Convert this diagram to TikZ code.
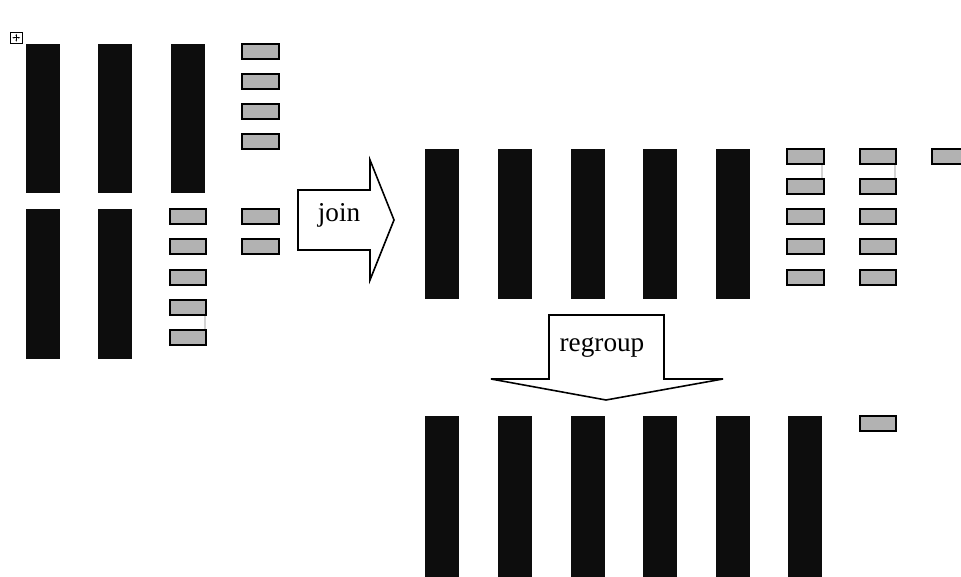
\documentclass[tikz,border=0pt]{standalone}
\usepackage{fontspec}
\setmainfont{Liberation Serif}
\usetikzlibrary{calc,arrows.meta}

\tikzset{
	bar/.style={fill=black!95, draw=none},
	slot/.style={fill=gray!60, draw=black, line width=0.6pt},
	bigarrow/.style={draw=black, line width=0.9pt, fill=white},
	faint/.style={draw=gray!35, line width=0.6pt},
	handle/.style={line width=0.4pt, -{Stealth[length=1.2pt]}},
}

\begin{document}
\begin{tikzpicture}[x=0.02cm, y=-0.02cm, font=\fontsize{15.5}{18}\selectfont]
		%%%%% START %%%%%
		\useasboundingbox (0, 0) rectangle (961, 577);
		
		% table handle
		\draw[line width=0.5pt] (10.5, 32) rectangle (22, 43.5);
		\draw[handle] (16.25, 37.75) -- (12.3, 37.75);
		\draw[handle] (16.25, 37.75) -- (20.2, 37.75);
		\draw[handle] (16.25, 37.75) -- (16.25, 33.8);
		\draw[handle] (16.25, 37.75) -- (16.25, 41.7);
		
		% before joining
		\foreach \x in {26, 98, 171} \fill[bar] (\x, 44) rectangle ++(34, 149);
		\foreach \x in {26, 98} \fill[bar] (\x, 209) rectangle ++(34, 150);
		\draw[faint] (205, 315) -- (205, 330);
		\foreach \y in {44, 74, 104, 134, 209, 239} \draw[slot] (242, \y) rectangle ++(37, 15);
		\foreach \y in {209, 239, 270, 300, 330} \draw[slot] (170, \y) rectangle ++(36, 15);
		
		% join
		\draw[bigarrow] (298, 190) -- (370, 190) -- (370, 160) -- (394, 220)
			-- (370, 280) -- (370, 250) -- (298, 250) -- cycle;
		\node (join) at (339, 215) {join};
		
		% after joining
		\foreach \x in {425, 498, 571, 643, 716} \fill[bar] (\x, 149) rectangle ++(34, 150);
		\draw[faint] (822, 164) -- (822, 179);
		\draw[faint] (895, 164) -- (895, 179);
		\foreach \y in {149, 179, 209, 239, 270} {
			\draw[slot] (787, \y) rectangle ++(37, 15);
			\draw[slot] (860, \y) rectangle ++(36, 15);
		}
		\draw[slot] (932, 149) rectangle ++(37, 15);
		
		% regroup
		\draw[bigarrow] (549, 315) -- (664, 315) -- (664, 379) -- (723, 379)
			-- (606, 400) -- (491, 379) -- (549, 379) -- cycle;
		\node (regroup) at (602, 347) {regroup};
		
		% after regrouping
		\foreach \x in {425, 498, 571, 643, 716, 788} \fill[bar] (\x, 416) rectangle ++(34, 165);
		\draw[slot] (860, 416) rectangle ++(36, 15);
		
		%%%%% END %%%%%
\end{tikzpicture}
\end{document}
